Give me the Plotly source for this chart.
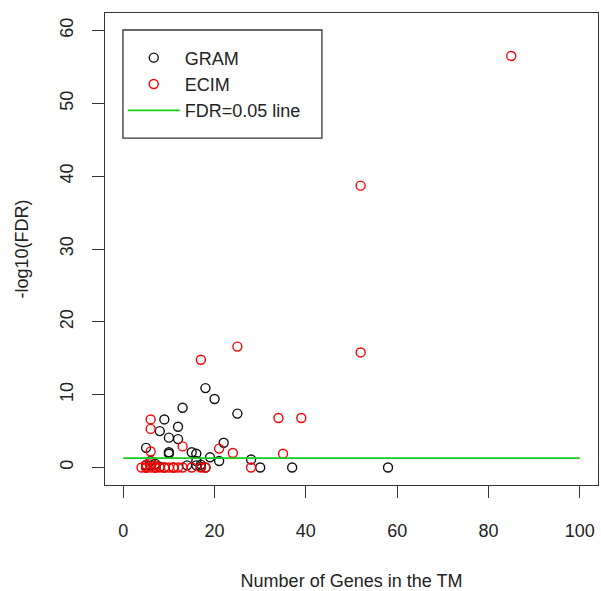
import plotly.graph_objects as go

# GRAM modules: number of genes vs -log10(FDR)
gram_x = [18, 20, 13, 25, 9, 12, 8, 10, 12, 22, 5, 10, 10, 15, 16, 19, 21, 28,
          30, 37, 58, 17, 16, 17, 18, 11, 5, 6, 7, 8, 6, 9, 5, 7, 14, 16]
gram_y = [10.9, 9.4, 8.2, 7.4, 6.6, 5.6, 5.0, 4.1, 3.9, 3.4, 2.7, 2.1, 1.9, 2.1, 1.9, 1.4, 0.9, 1.1,
          0.0, 0.0, 0.0, 0.1, 0.9, 0.4, 0.0, 0.0, 0.0, 0.3, 0.5, 0.1, 0.9, 0.0, 0.3, 0.0, 0.3, 0.3]

# ECIM modules
ecim_x = [85, 52, 52, 25, 17, 34, 39, 35, 6, 6, 6, 13, 21, 24, 28,
          4, 5, 6, 7, 8, 9, 10, 11, 13, 15, 17, 18, 5, 6, 7, 12]
ecim_y = [56.5, 38.7, 15.8, 16.6, 14.8, 6.8, 6.8, 1.9, 6.6, 5.3, 2.2, 2.9, 2.6, 2.0, 0.0,
          0.0, 0.0, 0.0, 0.0, 0.0, 0.0, 0.0, 0.0, 0.0, 0.0, 0.0, 0.0, 0.4, 0.6, 0.3, 0.0]

# FDR = 0.05 threshold line
fdr_x = [0, 100]
fdr_y = [1.301, 1.301]

x_ticks = [0, 20, 40, 60, 80, 100]
y_ticks = [0, 10, 20, 30, 40, 50, 60]

FONT = "Liberation Sans, Arial, sans-serif"
INK = "#222222"

fig = go.Figure()
fig.add_trace(go.Scatter(
    x=gram_x, y=gram_y, mode="markers", name="GRAM",
    marker=dict(symbol="circle-open", size=9, color="#111111", line=dict(width=1.4, color="#111111")),
))
fig.add_trace(go.Scatter(
    x=ecim_x, y=ecim_y, mode="markers", name="ECIM",
    marker=dict(symbol="circle-open", size=9, color="#ff0000", line=dict(width=1.4, color="#ff0000")),
))
fig.add_trace(go.Scatter(
    x=fdr_x, y=fdr_y, mode="lines", name="FDR=0.05 line",
    line=dict(color="#19cc19", width=1.8),
))

axis_common = dict(
    showgrid=False, zeroline=False, showline=True, mirror=True, automargin=False,
    linecolor="#333333", linewidth=1.3,
    ticks="outside", ticklen=12, tickwidth=1.3, tickcolor="#333333",
    tickfont=dict(family=FONT, size=18, color=INK),
)

fig.update_layout(
    width=601, height=591,
    margin=dict(l=105, r=3, t=13, b=106),
    paper_bgcolor="white", plot_bgcolor="white",
    font=dict(family=FONT, size=18, color=INK),
    xaxis=dict(range=[-4, 104], tickvals=x_ticks, ticklabelstandoff=17,
               title=dict(text="Number of Genes in the TM", standoff=34,
                          font=dict(family=FONT, size=18, color=INK)),
               **axis_common),
    yaxis=dict(range=[-2.4, 62.4], tickvals=y_ticks, tickangle=-90, ticklabelstandoff=12,
               title=dict(text="-log10(FDR)", standoff=23,
                          font=dict(family=FONT, size=18, color=INK)),
               **axis_common),
    legend=dict(x=0.036, y=0.944, xanchor="left", yanchor="top",
                bgcolor="rgba(0,0,0,0)", borderwidth=0,
                font=dict(family=FONT, size=18, color=INK),
                itemwidth=52, tracegroupgap=6),
    showlegend=True,
    shapes=[
        dict(type="rect", xref="paper", yref="paper",
             x0=0.0364, x1=0.440, y0=0.735, y1=0.964,
             line=dict(color="#333333", width=1.3), fillcolor="white", layer="below"),
    ],
)

fig.write_html(
    "out.html", config={"displayModeBar": False},
    post_script=("document.body.style.margin='0';"
                 "document.body.style.overflow='hidden';"
                 "document.documentElement.style.overflow='hidden';"),
)
